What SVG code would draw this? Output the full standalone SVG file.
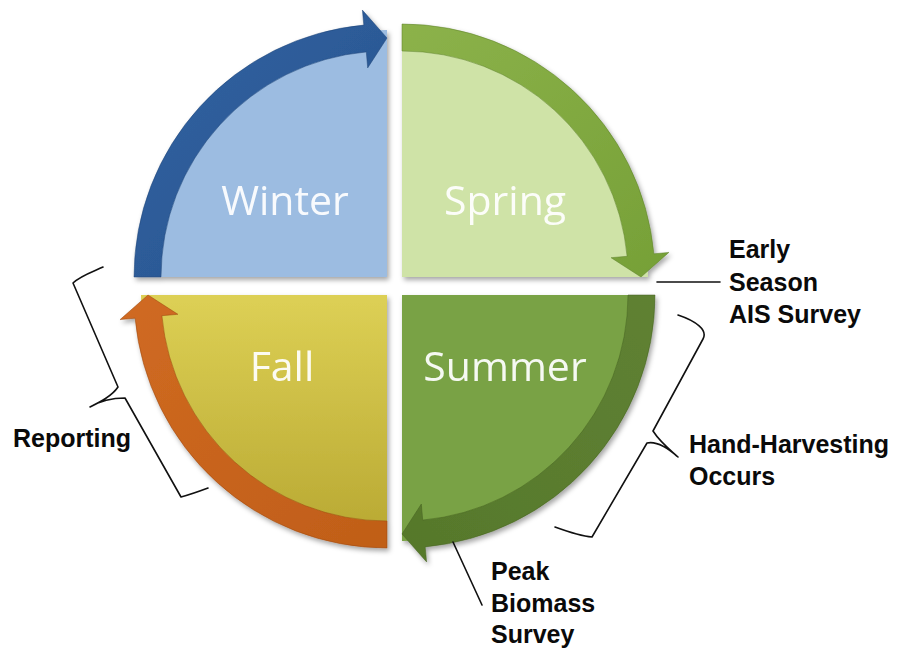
<svg xmlns="http://www.w3.org/2000/svg" width="907" height="652" viewBox="0 0 907 652">
<defs>
<filter id="sh" x="-10%" y="-10%" width="130%" height="130%">
<feDropShadow dx="2" dy="3" stdDeviation="2.5" flood-color="#000" flood-opacity="0.35"/>
</filter>
<linearGradient id="gFall" x1="0" y1="0" x2="0" y2="1">
<stop offset="0" stop-color="#ddd055"/>
<stop offset="1" stop-color="#b8a832"/>
</linearGradient>
<linearGradient id="gWinterA" x1="0" y1="0" x2="1" y2="1">
<stop offset="0" stop-color="#3263a3"/>
<stop offset="1" stop-color="#27528c"/>
</linearGradient>
<linearGradient id="gSpringA" x1="0" y1="0" x2="1" y2="1">
<stop offset="0" stop-color="#8cb24a"/>
<stop offset="1" stop-color="#76a037"/>
</linearGradient>
<linearGradient id="gSummerA" x1="1" y1="0" x2="0" y2="1">
<stop offset="0" stop-color="#5f8133"/>
<stop offset="1" stop-color="#56782b"/>
</linearGradient>
<linearGradient id="gFallA" x1="0" y1="0" x2="1" y2="1">
<stop offset="0" stop-color="#d06a22"/>
<stop offset="1" stop-color="#c05e18"/>
</linearGradient>
</defs>
<style>
.q{font-family:"Open Sans","Liberation Sans",sans-serif;font-size:41px;fill:#ffffff;fill-opacity:0.93;text-anchor:middle}
.lbl{font-family:"Liberation Sans",Arial,sans-serif;font-size:25px;font-weight:bold;fill:#0a0a0a}
.ln{fill:none;stroke:#111;stroke-width:1.6;stroke-linecap:round;stroke-linejoin:round}
.ar{stroke-width:1;stroke-opacity:0.5}
</style>
<rect width="907" height="652" fill="#ffffff"/>

<g id="winter" filter="url(#sh)">
<path d="M387,277 L140,277 A247 247 0 0 1 387,30 Z" fill="#9cbce1"/>
<path class="ar" d="M134,277 A253 253 0 0 1 363.8,25.1 L362.4,10.1 L387,38 L367.7,67.9 L366.3,51.9 A226 226 0 0 0 161,277 Z" fill="url(#gWinterA)" stroke="#1f4578"/>
<text class="q" x="285" y="215">Winter</text>
</g>

<g id="spring" filter="url(#sh)">
<path d="M402,277 L402,31 A246 246 0 0 1 648,277 Z" fill="#cfe3a7"/>
<path class="ar" d="M402,24 A253 253 0 0 1 653.9,253.8 L668.9,252.4 L641,277 L611.1,257.7 L627.1,256.3 A226 226 0 0 0 402,51 Z" fill="url(#gSpringA)" stroke="#5b7f2a"/>
<text class="q" x="505" y="215">Spring</text>
</g>

<g id="summer" filter="url(#sh)">
<path d="M402,295 L648,295 A246 246 0 0 1 402,541 Z" fill="#79a244"/>
<path class="ar" d="M655,295 A253 253 0 0 1 425.2,546.9 L426.6,561.9 L402,534 L421.3,504.1 L422.7,520.1 A226 226 0 0 0 628,295 Z" fill="url(#gSummerA)" stroke="#445f1f"/>
<text class="q" x="505" y="381">Summer</text>
</g>

<g id="fall" filter="url(#sh)">
<path d="M387,295 L387,541 A246 246 0 0 1 141,295 Z" fill="url(#gFall)"/>
<path class="ar" d="M387,548 A253 253 0 0 1 135.1,318.2 L120.1,319.6 L148,295 L177.9,314.3 L161.9,315.7 A226 226 0 0 0 387,521 Z" fill="url(#gFallA)" stroke="#9a4810"/>
<text class="q" x="282" y="381">Fall</text>
</g>

<g id="connectors">
<path class="ln" d="M657,282 L720,282"/>
<path class="ln" d="M453,542 L482,605"/>
<path class="ln" d="M678,315 C696,321 708,330 703,339 L653,431 C660,442 670,450 678,457 C668,448 656,441 647,443 L592,537 C580,536 566,531 555,527"/>
<path class="ln" d="M103,267 C92,272 80,276 73,283 L118,387 C112,396 100,402 90,407 C100,401 114,398 125,398 L181,497 C192,494 200,491 208,488"/>
</g>

<g id="label-early">
<text class="lbl" x="729" y="258">Early</text>
<text class="lbl" x="729" y="291">Season</text>
<text class="lbl" x="729" y="323">AIS Survey</text>
</g>
<g id="label-hand">
<text class="lbl" x="689" y="453">Hand-Harvesting</text>
<text class="lbl" x="689" y="485">Occurs</text>
</g>
<g id="label-peak">
<text class="lbl" x="491" y="580">Peak</text>
<text class="lbl" x="491" y="612">Biomass</text>
<text class="lbl" x="491" y="643">Survey</text>
</g>
<g id="label-reporting">
<text class="lbl" x="13" y="447">Reporting</text>
</g>
</svg>
